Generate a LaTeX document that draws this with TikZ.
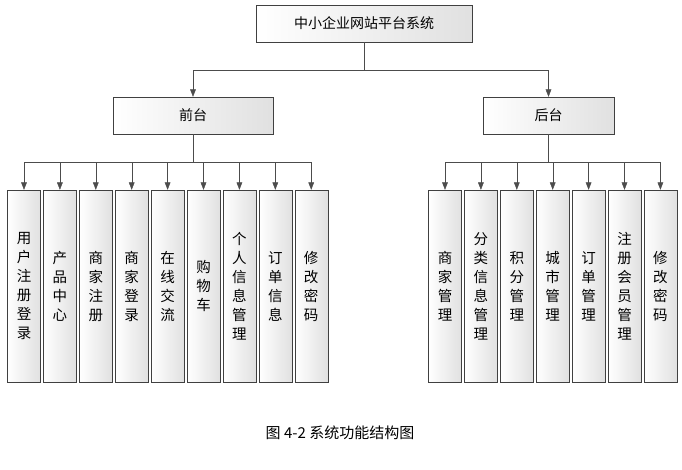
\documentclass[tikz,border=0pt]{standalone}
\usepackage{fontspec}
\setmainfont{Noto Sans CJK SC}
\usetikzlibrary{arrows.meta,positioning}
\tikzset{
  semithick,
  >={Triangle[length=2.6mm,width=2mm]},
  my box/.style={
    draw=black!75,
    left color=white,
    right color=black!12,
    inner sep=0pt
  },
  my leaf/.style={
    my box,
    minimum width=33pt,
    minimum height=192pt,
    align=center,
    font=\fontsize{14.5pt}{19pt}\selectfont
  },
  my link/.style={draw=black!70}
}
\begin{document}
\begin{tikzpicture}[x=1pt,y=-1pt,node distance=2.5pt]
\useasboundingbox (0,0) rectangle (682,469);
% top level
\node[my box,minimum width=216pt,minimum height=37pt,font=\fontsize{14pt}{15pt}\selectfont]
  (root) at (364,23.5) {中小企业网站平台系统};
\node[my box,minimum width=160pt,minimum height=37pt,font=\fontsize{14pt}{15pt}\selectfont]
  (front) at (193,115.5) {前台};
\node[my box,minimum width=131pt,minimum height=37pt,font=\fontsize{14pt}{15pt}\selectfont]
  (back) at (548.5,115.5) {后台};
% front leaves
\node[my leaf] (f1) at (24,286) {用\\户\\注\\册\\登\\录};
\node[my leaf] (f2) [right=of f1] {产\\品\\中\\心};
\node[my leaf] (f3) [right=of f2] {商\\家\\注\\册};
\node[my leaf] (f4) [right=of f3] {商\\家\\登\\录};
\node[my leaf] (f5) [right=of f4] {在\\线\\交\\流};
\node[my leaf] (f6) [right=of f5] {购\\物\\车};
\node[my leaf] (f7) [right=of f6] {个\\人\\信\\息\\管\\理};
\node[my leaf] (f8) [right=of f7] {订\\单\\信\\息};
\node[my leaf] (f9) [right=of f8] {修\\改\\密\\码};
% back leaves
\node[my leaf] (b1) at (445,286) {商\\家\\管\\理};
\node[my leaf] (b2) [right=of b1] {分\\类\\信\\息\\管\\理};
\node[my leaf] (b3) [right=of b2] {积\\分\\管\\理};
\node[my leaf] (b4) [right=of b3] {城\\市\\管\\理};
\node[my leaf] (b5) [right=of b4] {订\\单\\管\\理};
\node[my leaf] (b6) [right=of b5] {注\\册\\会\\员\\管\\理};
\node[my leaf] (b7) [right=of b6] {修\\改\\密\\码};
% connectors
\coordinate (rbus) at (0,70);
\coordinate (fbus) at (0,162);
\draw[my link] (root.south) -- (root.south |- rbus);
\draw[my link] (front.north |- rbus) -- (back.north |- rbus);
\draw[my link,->] (front.north |- rbus) -- (front.north);
\draw[my link,->] (back.north |- rbus) -- (back.north);
\draw[my link] (front.south) -- (front.south |- fbus);
\draw[my link] (f1.north |- fbus) -- (f9.north |- fbus);
\foreach \i in {1,...,9}
  \draw[my link,->] (f\i.north |- fbus) -- (f\i.north);
\draw[my link] (back.south) -- (back.south |- fbus);
\draw[my link] (b1.north |- fbus) -- (b7.north |- fbus);
\foreach \i in {1,...,7}
  \draw[my link,->] (b\i.north |- fbus) -- (b\i.north);
% caption
\node[font=\fontsize{15pt}{16pt}\selectfont] (cap) at (340,433) {图 4-2 系统功能结构图};
\end{tikzpicture}
\end{document}
